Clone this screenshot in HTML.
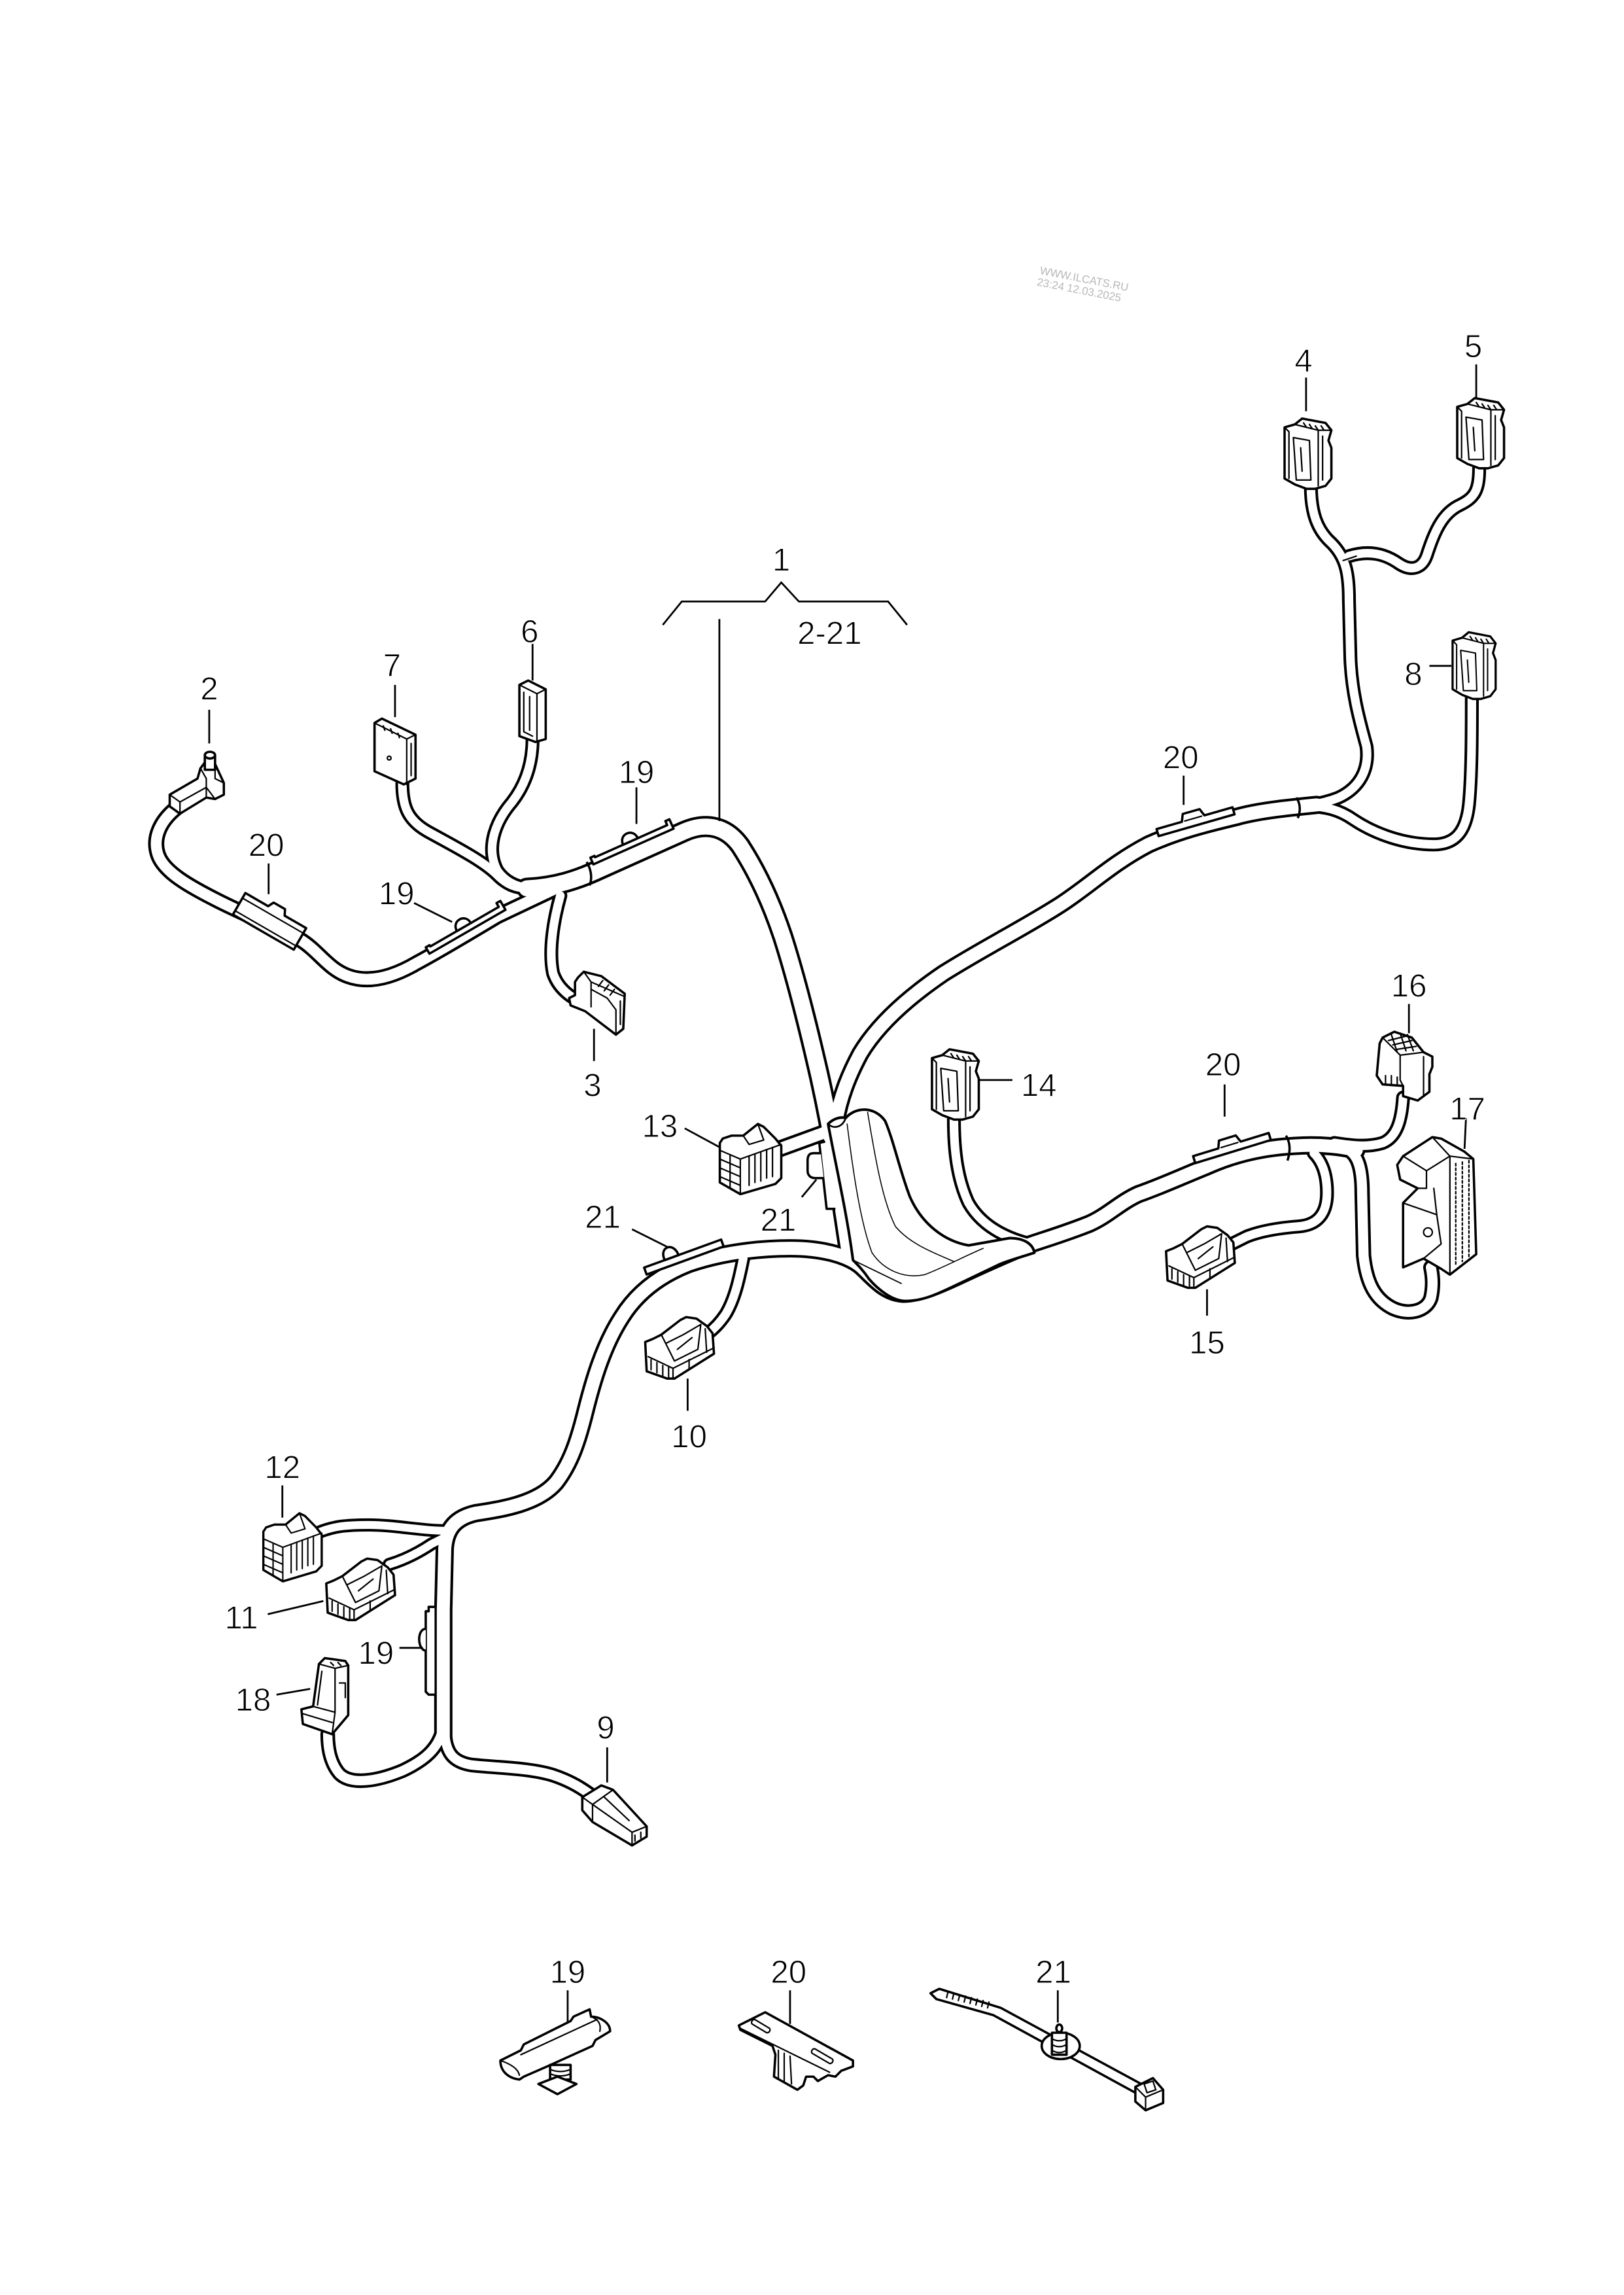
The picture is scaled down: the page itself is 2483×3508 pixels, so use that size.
<!DOCTYPE html>
<html>
<head>
<meta charset="utf-8">
<style>
html,body{margin:0;padding:0;background:#fff}
svg{display:block}
</style>
</head>
<body>
<svg xmlns="http://www.w3.org/2000/svg" xmlns:xlink="http://www.w3.org/1999/xlink" width="2483" height="3508" viewBox="0 0 1110 1568.2">
<defs>
<style>
.o{fill:none;stroke:#000;stroke-linecap:round;stroke-linejoin:round}
.i{fill:none;stroke:#fff;stroke-linecap:round;stroke-linejoin:round}
.s{fill:#fff;stroke:#000;stroke-width:1.6;stroke-linejoin:round}
.t{fill:none;stroke:#000;stroke-width:1;stroke-linecap:round;stroke-linejoin:round}
.l{fill:none;stroke:#000;stroke-width:1.25}
text{font-family:"Liberation Sans",sans-serif;font-size:22px;fill:#000;text-anchor:middle;stroke:#fff;stroke-width:0.45}
.wm{font-size:7.5px;fill:#b8b8b8;stroke:none}
</style>
<path id="c2" d="M122,551 C110,560 104,572 108,584 C112,596 130,606 150,616 C170,626 190,634 205,642 C218,650 224,662 238,667 C252,672 268,668 285,658 C300,650 320,638 340,626 L378,608"/>
<path id="cml" d="M360,607 C380,606 395,601 410,594 L468,568 C482,562 496,564 506,578 C517,595 527,616 535,640 C543,665 552,700 560,735 C566,762 572,795 576,825 L581,858"/>
<path id="cur" d="M900,550 C880,552 860,554 846,558 C825,563 805,568 785,577 C760,590 745,605 725,618 C700,634 672,648 645,665 C620,682 600,700 588,720 C580,735 574,750 571,768"/>
<path id="crm" d="M927,786 C914,783 900,782 885,783 C865,784 845,788 825,797 C810,803 795,810 778,816 C765,822 758,830 745,836 C730,842 720,845 705,850 C690,856 672,864 655,872 C640,879 628,884 617,884 C604,883 597,873 588,865 C578,857 560,853 540,853 C515,853 490,857 470,864 C450,872 435,884 425,900 C412,920 405,945 400,965 C395,985 390,1000 380,1013 C368,1027 345,1031 325,1034 C312,1037 305,1044 304,1058 L303,1100 L303,1188"/>
<path id="c3" d="M383,612 C378,630 375,650 378,665 C381,674 388,680 394,683"/>
<path id="c6" d="M364,505 C364,520 360,535 350,548 C338,562 332,580 340,595 C345,602 352,606 362,607"/>
<path id="c7" d="M275,535 C275,550 278,560 292,568 C310,578 330,588 340,598 C346,604 352,607 362,607"/>
<path id="c4" d="M896,332 C896,350 900,362 910,371 C920,381 922,392 922,410 L923,450 C924,475 930,495 934,510 C936,525 930,538 915,545 C905,549 893,551 880,552"/>
<path id="c5" d="M1011,320 C1011,335 1008,340 998,345 C985,351 980,365 975,380 C972,388 965,391 956,385 C946,378 935,376 922,380"/>
<path id="c8" d="M1006,477 C1006,500 1006,530 1004,550 C1002,568 995,577 980,577 C960,577 940,570 925,560 C915,553 905,551 895,551"/>
<path id="c14" d="M652,765 C652,785 654,805 662,822 C670,836 684,845 704,850"/>
<path id="c16" d="M959,750 C958,765 955,777 945,781 C935,784 925,783 912,781"/>
<path id="c17" d="M920,785 C928,788 931,798 931,815 L932,858 C934,877 940,888 952,894 C963,899 975,896 978,887 C980,878 979,871 978,866"/>
<path id="c15" d="M898,788 C905,795 907,805 907,815 C907,830 900,837 888,838 C875,839 862,841 852,845 L842,850"/>
<path id="c13" d="M533,785 L566,773"/>
<path id="c10" d="M508,860 C505,875 502,888 496,898 C492,904 488,908 484,911"/>
<path id="c12" d="M218,1047 C228,1043 236,1042 252,1042 C270,1042 288,1046 305,1046"/>
<path id="c11" d="M266,1069 C276,1066 286,1061 295,1055 L305,1050"/>
<path id="c18" d="M303,1180 C300,1195 290,1203 275,1210 C258,1217 240,1220 232,1212 C226,1205 224,1195 224,1185"/>
<path id="c9" d="M304,1185 C305,1198 310,1204 322,1206 C340,1208 362,1208 378,1213 C390,1217 398,1222 406,1228"/>

<g id="ca">
<path class="s" d="M2,6 L9,4 L14,0 L30,3 L34,8 L32,15 L34,20 L34,41 L30,46 L23,48 L17,48 L9,45 L2,41 Z"/>
<path class="t" d="M9,4 L25,8 L34,8 M25,8 L25,46 M8,13 L19,15 L20,42 L10,42 Z M13,20 L14,36 M28,12 L28,42 M15,3 L17,6 M19,4 L21,7 M23,5 L25,8 M27,5 L29,8 M2,6 L5,9 L5,41"/>
</g>
<g id="cb">
<path class="s" d="M0,17 L5,15 L11,12 L24,2 L28,0 L35,1 L42,6 L46,11 L47,25 L20,42 L15,42 L1,37 Z"/>
<path class="t" d="M2,27 L19,35 L19,42 M19,35 L47,21 M11,12 L14,18 L26,12 L38,5 M14,18 L20,30 L36,22 L38,5 M22,22 L32,14 M41,8 L42,24 M4,29 L4,36 M8,31 L8,38 M12,33 L12,40 M16,34 L16,41 M30,29 L30,35"/>
</g>
<g id="cc">
<path class="s" d="M0,13 L2,10 L8,8 L16,8 L26,0 L30,2 L38,10 L42,15 L42,37 L38,41 L14,48 L0,40 Z"/>
<path class="t" d="M0,18 L14,24 L14,48 M14,24 L42,14 M7,21 L7,44 M0,24 L14,30 M0,30 L14,36 M0,36 L14,42 M20,22 L20,42 M24,20.5 L24,40 M28,19 L28,39 M32,17.5 L32,37 M16,8 L20,14 L30,11 L26,0 M36,16 L36,36"/>
</g>
<g id="k19">
<path class="s" d="M-30,-5 L-30,-10 L-27,-10 L-27,-9 L27,-9 L27,-12 L30,-12 L30,-5 Z"/>
<path class="s" d="M-6,-9 C-6,-17 5,-17 5,-9 Z"/>
</g>
<g id="k20">
<path class="s" d="M-26,-4 L-26,-9 L-8,-9 L-6,-14 L6,-14 L8,-9 L28,-9 L28,-4 Z"/>
<path class="t" d="M-6,-9 L6,-9"/>
</g>
</defs>

<!-- watermark -->
<g transform="translate(740,196) rotate(11)">
<text class="wm" x="0" y="-3">WWW.ILCATS.RU</text>
<text class="wm" x="-2" y="5">23:24 12.03.2025</text>
</g>

<!-- cable outlines -->
<g class="o">
<use xlink:href="#c2" style="stroke-width:11"/>
<use xlink:href="#cml" style="stroke-width:14.5"/>
<use xlink:href="#cur" style="stroke-width:12.5"/>
<use xlink:href="#crm" style="stroke-width:12.5"/>
<use xlink:href="#c3" style="stroke-width:9.5"/>
<use xlink:href="#c6" style="stroke-width:9.5"/>
<use xlink:href="#c7" style="stroke-width:9.5"/>
<use xlink:href="#c4" style="stroke-width:9.5"/>
<use xlink:href="#c5" style="stroke-width:9.5"/>
<use xlink:href="#c8" style="stroke-width:9.5"/>
<use xlink:href="#c14" style="stroke-width:9.5"/>
<use xlink:href="#c16" style="stroke-width:9.5"/>
<use xlink:href="#c17" style="stroke-width:10.5"/>
<use xlink:href="#c15" style="stroke-width:9.5"/>
<use xlink:href="#c13" style="stroke-width:11.5"/>
<use xlink:href="#c10" style="stroke-width:9.5"/>
<use xlink:href="#c12" style="stroke-width:9"/>
<use xlink:href="#c11" style="stroke-width:9"/>
<use xlink:href="#c18" style="stroke-width:10"/>
<use xlink:href="#c9" style="stroke-width:10"/>
</g>
<!-- cable inners -->
<g class="i">
<use xlink:href="#c2" style="stroke-width:7.4"/>
<use xlink:href="#cml" style="stroke-width:10.9"/>
<use xlink:href="#cur" style="stroke-width:8.9"/>
<use xlink:href="#crm" style="stroke-width:8.9"/>
<use xlink:href="#c3" style="stroke-width:5.9"/>
<use xlink:href="#c6" style="stroke-width:5.9"/>
<use xlink:href="#c7" style="stroke-width:5.9"/>
<use xlink:href="#c4" style="stroke-width:5.9"/>
<use xlink:href="#c5" style="stroke-width:5.9"/>
<use xlink:href="#c8" style="stroke-width:5.9"/>
<use xlink:href="#c14" style="stroke-width:5.9"/>
<use xlink:href="#c16" style="stroke-width:5.9"/>
<use xlink:href="#c17" style="stroke-width:6.9"/>
<use xlink:href="#c15" style="stroke-width:5.9"/>
<use xlink:href="#c13" style="stroke-width:7.9"/>
<use xlink:href="#c10" style="stroke-width:5.9"/>
<use xlink:href="#c12" style="stroke-width:5.4"/>
<use xlink:href="#c11" style="stroke-width:5.4"/>
<use xlink:href="#c18" style="stroke-width:6.4"/>
<use xlink:href="#c9" style="stroke-width:6.4"/>
</g>

<!-- band lines on cables -->
<path class="l" style="stroke-width:1.6" d="M886,545 C889,549 889,555 887,559"/>
<path class="l" style="stroke-width:1.6" d="M879,776 C882,781 882,787 880,793"/>
<path class="l" style="stroke-width:1.6" d="M401,589 C404,594 405,600 403,605"/>
<path class="t" d="M918,383 L927,380"/>

<!-- sleeve -->
<path class="s" style="stroke-width:1.8" d="M566,768 C570,764 575,763 578,764 C585,756 598,756 605,766 C611,780 615,800 622,818 C630,836 645,848 662,851 L690,846 C700,846 706,850 707,856 C698,859 690,861 683,864 L658,876 C645,882 633,889 619,889 C610,889 600,881 594,874 C590,868 586,864 583,861 C579,830 572,800 566,768 Z"/>
<path class="t" style="stroke-width:0.7" d="M579,768 C583,800 588,835 596,856 C604,868 618,874 632,871 C645,866 658,859 672,853"/>
<path class="t" style="stroke-width:0.7" d="M593,760 C598,790 603,820 612,838 C622,850 638,856 652,862"/>
<path class="t" style="stroke-width:0.8" d="M583,861 L616,877"/>
<path class="t" style="stroke-width:1.2" d="M566,768 C570,772 576,770 578,764"/>

<!-- clips -->
<use xlink:href="#k19" transform="translate(435,583) rotate(-24)"/>
<use xlink:href="#k19" transform="translate(322,641) rotate(-30)"/>
<g transform="translate(184,630) rotate(30)">
<path class="s" d="M-24,-9 L-6,-9 L-4,-13 L5,-13 L7,-9 L24,-9 L24,8 L-24,8 Z"/>
<path class="t" d="M-24,-5 L24,-5 M-24,5 L24,5"/>
</g>
<use xlink:href="#k20" transform="translate(818,568) rotate(-16)"/>
<use xlink:href="#k20" transform="translate(843,791) rotate(-17)"/>
<g transform="translate(470,866) rotate(-20)">
<path class="s" d="M-28,-5 L-28,-10 L28,-10 L28,-5 Z"/>
<path class="s" d="M-13,-10 C-14,-20 -3,-20 -3,-10 Z"/>
</g>
<path class="s" d="M564,780 L560,781 L565,826 L571,826"/>
<path class="s" d="M561,788 L556,788 C553,788 552,790 552,793 L552,800 C552,803 554,805 557,805 L563,805"/>
<path class="s" d="M297,1098 L293,1098 L293,1101 L291,1101 L291,1156 L293,1158 L297,1158"/>
<path class="s" d="M291,1113 C285,1113 285,1127 291,1128"/>

<!-- connectors -->
<!-- 2 -->
<path class="s" d="M116,543 L135,532 L137,525 L140,521 L147,522 L153,535 L153,543 L147,546 L141,545 L123,556 L116,551 Z"/>
<path class="t" d="M116,543 L123,548 L123,556 M123,548 L141,538 L141,545 M141,538 L147,546 M137,525 L141,532 L141,538 M147,522 L147,532 L153,535"/>
<path class="s" d="M140,516 L140,526 L147,526 L147,516"/>
<ellipse class="s" cx="143.5" cy="516" rx="3.5" ry="2.3"/>
<!-- 7 -->
<path class="s" d="M256,494 L261,491 L284,502 L284,532 L276,536 L256,527 Z"/>
<path class="t" d="M256,494 L278,505 L284,502 M278,505 L278,536 M262,496 L263,499 M267,498 L268,501 M272,501 L273,504 M281,508 L281,530"/>
<circle class="t" cx="266" cy="518" r="1.3"/>
<!-- 6 -->
<path class="s" d="M355,468 L361,465 L373,471 L373,505 L366,507 L355,503 Z"/>
<path class="t" d="M355,468 L367,474 L373,471 M367,474 L367,507 M358,473 L358,500 L364,503 M362,476 L362,499"/>
<!-- 3 -->
<path class="s" d="M393,671 L395,668 L399,664 L411,667 L423,676 L427,679 L426,703 L421,707 L400,691 L390,687 L389,682 L393,680 Z"/>
<path class="t" d="M399,664 L404,671 L427,681 M404,671 L404,688 M393,671 L393,680 M404,676 L415,682 L421,690 L421,707 M412,670 L409,674 M416,673 L413,677 M420,676 L417,680 M424,684 L424,700"/>
<!-- 4,5,8,14 -->
<use xlink:href="#ca" transform="translate(876,286)"/>
<use xlink:href="#ca" transform="translate(994,272)"/>
<use xlink:href="#ca" transform="translate(991,432) scale(0.92,0.95)"/>
<use xlink:href="#ca" transform="translate(635,717)"/>
<!-- 10,15,11 -->
<use xlink:href="#cb" transform="translate(441,900)"/>
<use xlink:href="#cb" transform="translate(797,838)"/>
<use xlink:href="#cb" transform="translate(223,1065)"/>
<!-- 13,12 -->
<use xlink:href="#cc" transform="translate(492,768)"/>
<use xlink:href="#cc" transform="translate(180,1034) scale(0.95,0.97)"/>
<!-- 16 -->
<path class="s" d="M943,713 L945,709 L953,705 L965,709 L973,719 L979,722 L979,729 L977,734 L977,746 L969,752 L959,749 L959,742 L945,741 L941,735 Z"/>
<path class="t" d="M945,709 L957,721 L973,719 M957,721 L957,738 L959,742 M949,711 L961,708 M952,714 L965,711 M955,717 L968,715 M951,707 L955,719 M957,706 L961,718 M962,707 L966,718 M947,741 L947,735 M951,741 L951,735 M955,741 L955,736 M973,722 L973,748"/>
<!-- 17 -->
<path class="s" d="M955,796 L959,790 L979,777 L985,778 L1001,787 L1007,792 L1009,857 L991,871 L985,867 L973,860 L959,866 L959,822 L969,812 L957,806 Z"/>
<path class="t" d="M979,777 L991,790 L1007,792 M991,790 L991,871 M959,790 L975,800 L991,790 M975,800 L975,812 L969,812 M959,822 L982,830 L985,850 L973,860 M980,812 L982,830"/>
<path class="t" style="stroke-dasharray:1.6,1.6" d="M995,795 L995,865 M999.5,794 L999.5,862 M1004,793 L1004,859"/>
<circle class="t" cx="976" cy="842" r="3"/>
<!-- 18 -->
<path class="s" d="M218,1137 L222,1133 L236,1135 L238,1138 L238,1172 L227,1185 L207,1178 L206,1168 L214,1166 Z"/>
<path class="t" d="M218,1137 L229,1140 L238,1138 M229,1140 L229,1170 L227,1185 M214,1166 L229,1170 M207,1171 L227,1177 M220,1142 L217,1165 M232,1150 L236,1150 L236,1160 M226,1136 L228,1138 M231,1136 L233,1138"/>
<!-- 9 -->
<path class="s" d="M398,1228 L411,1220 L419,1223 L442,1248 L442,1255 L432,1261 L405,1245 L398,1237 Z"/>
<path class="t" d="M398,1228 L405,1233 L419,1223 M405,1233 L405,1245 M405,1233 L432,1252 L442,1248 M432,1252 L432,1261 M413,1228 L430,1244 M434,1254 L434,1258 M438,1252 L438,1256"/>

<!-- bracket + leaders -->
<path class="l" d="M453,427 L466,411 L523,411 L534,398 L546,411 L607,411 L620,427"/>
<g class="l">
<path d="M491.7,423 L491.7,561"/>
<path d="M143,485 L143,508"/>
<path d="M270,468 L270,490"/>
<path d="M364,440 L364,465"/>
<path d="M435,538 L435,563"/>
<path d="M183.6,590 L183.6,611"/>
<path d="M283,617 L309,630"/>
<path d="M406,703 L406,725"/>
<path d="M892.7,258 L892.7,281"/>
<path d="M1009,249 L1009,272"/>
<path d="M977,455 L992,455"/>
<path d="M809,530 L809,550"/>
<path d="M669,738 L692,738"/>
<path d="M468,771 L492,784"/>
<path d="M548,818 L558,806"/>
<path d="M432,840 L456,852"/>
<path d="M837,741 L837,763"/>
<path d="M963,686 L963,706"/>
<path d="M1002,764 L1001,785"/>
<path d="M825,881 L825,899"/>
<path d="M470,942 L470,964"/>
<path d="M193,1015 L193,1037"/>
<path d="M183,1103 L221,1094"/>
<path d="M273,1126 L289,1126"/>
<path d="M189,1158 L212,1154"/>
<path d="M415,1194 L415,1218"/>
<path d="M388,1360 L388,1382"/>
<path d="M540,1360 L540,1383"/>
<path d="M723,1360 L723,1382"/>
</g>

<!-- bottom: 19 clip -->
<path class="s" d="M342,1408 L356,1401 L358,1397 L390,1381 L392,1378 L403,1373 L404,1378 C410,1378 417,1382 417,1388 L407,1394 L405,1398 L374,1412 L358,1419 L355,1421 C347,1420 342,1415 342,1408 Z"/>
<path class="t" d="M404,1378 C409,1380 411,1383 410,1388 M342,1408 C348,1410 354,1413 355,1418 M356,1404 L408,1380"/>
<path class="s" d="M376,1411 L376,1421 L390,1421 L390,1411 Z"/>
<path class="t" d="M376,1414 C380,1416 386,1416 390,1414 M376,1417 C380,1419 386,1419 390,1417"/>
<path class="s" d="M368,1424 L381,1419 L394,1424 L381,1431 Z"/>
<!-- bottom: 20 clip -->
<path class="s" d="M505,1384 L523,1375 L583,1408 L583,1412 L575,1415 L571,1419 L566,1418 L559,1422 L556,1419 L551,1419 L549,1425 L545,1428 L529,1419 L530,1404 L528,1398 L506,1387 Z"/>
<path class="t" d="M506,1386 L567,1416 M532,1401 L532,1420 M536,1403 L536,1422 M540,1405 L541,1424"/>
<path class="t" d="M516,1380 L526,1386 A2,2 0 0 1 524,1389 L514,1383 A2,2 0 0 1 516,1380 Z"/>
<path class="t" d="M557,1400 L569,1407 A2,2 0 0 1 567,1410 L555,1403 A2,2 0 0 1 557,1400 Z"/>
<!-- bottom: 21 tie -->
<path class="s" d="M636,1362 L642,1359 L684,1372 L780,1424 L776,1430 L679,1377 L640,1366 Z"/>
<path class="t" d="M648,1361 L647,1365 M652,1362 L651,1366 M656,1363 L655,1367 M660,1364 L659,1368 M664,1365 L663,1369 M668,1366 L667,1370 M672,1367 L671,1371 M676,1368 L675,1372"/>
<ellipse class="s" cx="725" cy="1398" rx="13" ry="9"/>
<path class="s" d="M719,1389 L719,1404 L729,1404 L729,1389 Z"/>
<path class="t" d="M719,1393 C722,1395 726,1395 729,1393 M719,1397 C722,1399 726,1399 729,1397 M719,1401 C722,1403 726,1403 729,1401"/>
<ellipse class="s" cx="724" cy="1386" rx="2" ry="2.6"/>
<path class="s" d="M776,1426 L788,1420 L795,1428 L795,1437 L783,1442 L776,1436 Z"/>
<path class="t" d="M776,1426 L783,1433 L795,1428 M783,1433 L783,1442 M782,1424 L788,1422 L790,1428 L784,1430 Z"/>

<!-- labels -->
<text x="534" y="390">1</text>
<text x="567" y="440">2-21</text>
<text x="143" y="478">2</text>
<text x="268" y="462">7</text>
<text x="362" y="439">6</text>
<text x="435" y="535">19</text>
<text x="182" y="585">20</text>
<text x="271" y="618">19</text>
<text x="405" y="749">3</text>
<text x="891" y="254">4</text>
<text x="1007" y="244">5</text>
<text x="966" y="468">8</text>
<text x="807" y="525">20</text>
<text x="710" y="749">14</text>
<text x="451" y="777">13</text>
<text x="532" y="841">21</text>
<text x="412" y="839">21</text>
<text x="836" y="735">20</text>
<text x="963" y="681">16</text>
<text x="1003" y="765">17</text>
<text x="825" y="925">15</text>
<text x="471" y="989">10</text>
<text x="193" y="1010">12</text>
<text x="165" y="1113">11</text>
<text x="257" y="1137">19</text>
<text x="173" y="1169">18</text>
<text x="414" y="1188">9</text>
<text x="388" y="1355">19</text>
<text x="539" y="1355">20</text>
<text x="720" y="1355">21</text>
</svg>
</body>
</html>
